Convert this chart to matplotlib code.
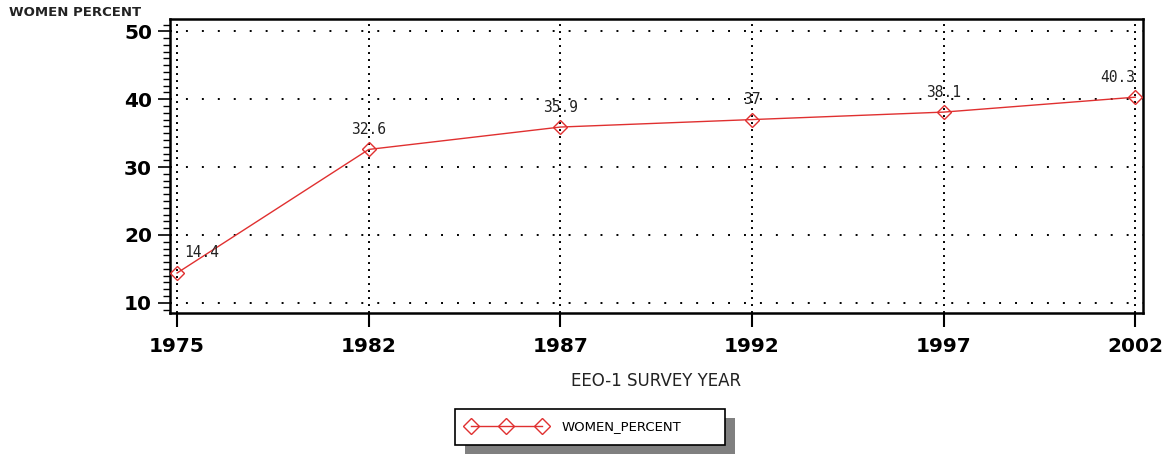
import matplotlib.pyplot as plt
from matplotlib.ticker import MultipleLocator
from matplotlib.patches import Rectangle

years = ['1975', '1982', '1987', '1992', '1997', '2002']
women_percent = [14.4, 32.6, 35.9, 37, 38.1, 40.3]
point_labels = ['14.4', '32.6', '35.9', '37', '38.1', '40.3']

fig = plt.figure(figsize=(11.7, 4.55), dpi=100)
ax = fig.add_axes([0.1453, 0.312, 0.8316, 0.646])

x = list(range(len(years)))
ax.plot(x, women_percent, color='#e03030', linewidth=1.0, marker='D',
        markersize=7, markerfacecolor='none', markeredgecolor='#e03030',
        markeredgewidth=1.0, label='WOMEN_PERCENT', zorder=3)

# value labels above the points
aligns = ['left', 'center', 'center', 'center', 'center', 'right']
for xi, yi, lab, ha in zip(x, women_percent, point_labels, aligns):
    dx = 5 if ha == 'left' else 0
    ax.annotate(lab, (xi, yi), xytext=(dx, 9), textcoords='offset points',
                ha=ha, va='bottom', fontsize=10.5, family='DejaVu Sans Mono',
                color='#222222')

ax.set_xlim(-0.037, 5.04)
ax.set_ylim(8.5, 51.8)
ax.set_xticks(x)
ax.set_xticklabels(years, fontsize=14.5, fontweight='bold')
ax.set_yticks([10, 20, 30, 40, 50])
ax.set_yticklabels(['10', '20', '30', '40', '50'], fontsize=14.5, fontweight='bold')
ax.yaxis.set_minor_locator(MultipleLocator(1))
ax.tick_params(axis='y', which='major', length=9, width=1.2, pad=4)
ax.tick_params(axis='y', which='minor', length=5, width=1)
ax.tick_params(axis='x', which='major', length=10, width=1.5, pad=7)

# dotted reference lines
ax.yaxis.grid(True, which='major', linestyle=(0, (1, 7.2)), color='black', linewidth=1.4)
ax.xaxis.grid(True, which='major', linestyle=(0, (1, 2.6)), color='black', linewidth=1.4)
for s in ax.spines.values():
    s.set_linewidth(1.8)

ax.set_xlabel('EEO-1 SURVEY YEAR', fontsize=12, labelpad=12, color='#222222')
fig.text(0.008, 0.972, 'WOMEN PERCENT', fontsize=9.5, fontweight='bold',
         ha='left', va='center', color='#222222')

leg = fig.legend(loc='center', bbox_to_anchor=(0.3889, 0.0176, 0.2308, 0.088),
                 mode='expand', ncol=1, fontsize=9.5, frameon=True,
                 fancybox=False, shadow=False, handlelength=6, numpoints=3,
                 markerscale=1.1, borderpad=0.9, handletextpad=1.2,
                 borderaxespad=0)
leg.get_frame().set_edgecolor('black')
leg.get_frame().set_linewidth(1.2)
leg.get_frame().set_alpha(1)
leg.set_zorder(6)

# gray drop shadow behind legend box
fig.canvas.draw()
bb = leg.get_frame().get_window_extent()
fig.patches.append(Rectangle((bb.x0 + 10, bb.y0 - 9), bb.width, bb.height,
                             transform=None, facecolor='#808080',
                             edgecolor='none', zorder=5))

fig.savefig('out.png', dpi=100)
